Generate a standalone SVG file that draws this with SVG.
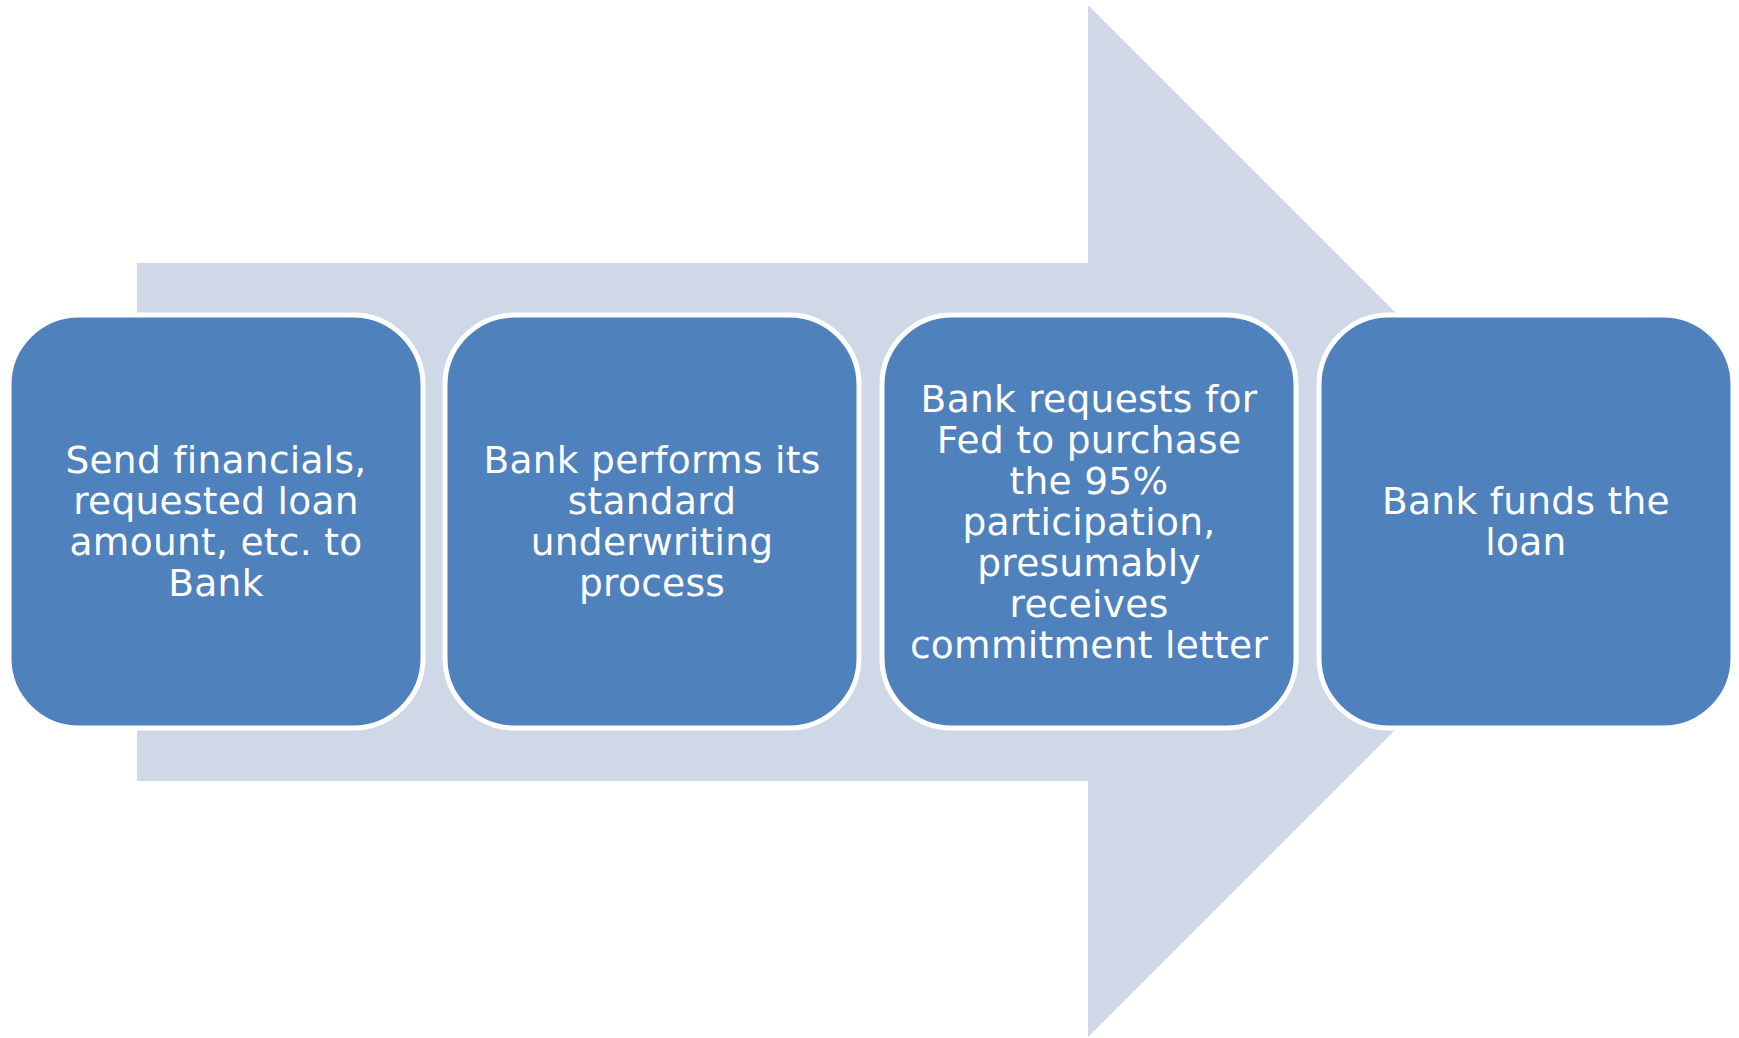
<svg xmlns="http://www.w3.org/2000/svg" width="1739" height="1038" viewBox="0 0 1739 1038">
  <style>
    .step { fill: #4F81BD; stroke: #FFFFFF; stroke-width: 5; }
    .label { fill: #FFFFFF; font-family: "DejaVu Sans", Verdana, sans-serif; font-size: 37.5px; letter-spacing: 0.3px; text-anchor: middle; }
  </style>
  <rect x="0" y="0" width="1739" height="1038" fill="#FFFFFF"/>

  <!-- background process arrow -->
  <g id="connectors">
    <polygon id="process-arrow" points="137,263 1088,263 1088,5 1604,521 1088,1037 1088,781 137,781" fill="#D0D8E8"/>
  </g>

  <g id="step1">
    <rect class="step" x="9" y="315" width="414" height="413" rx="70" ry="70"/>
    <text class="label" x="216" y="473">Send financials,</text>
    <text class="label" x="216" y="514">requested loan</text>
    <text class="label" x="216" y="555">amount, etc. to</text>
    <text class="label" x="216" y="596">Bank</text>
  </g>

  <g id="step2">
    <rect class="step" x="445" y="315" width="414" height="413" rx="70" ry="70"/>
    <text class="label" x="652" y="473">Bank performs its</text>
    <text class="label" x="652" y="514">standard</text>
    <text class="label" x="652" y="555">underwriting</text>
    <text class="label" x="652" y="596">process</text>
  </g>

  <g id="step3">
    <rect class="step" x="882" y="315" width="414" height="413" rx="70" ry="70"/>
    <text class="label" x="1089" y="411.5">Bank requests for</text>
    <text class="label" x="1089" y="452.5">Fed to purchase</text>
    <text class="label" x="1089" y="493.5">the 95%</text>
    <text class="label" x="1089" y="534.5">participation,</text>
    <text class="label" x="1089" y="575.5">presumably</text>
    <text class="label" x="1089" y="616.5">receives</text>
    <text class="label" x="1089" y="657.5">commitment letter</text>
  </g>

  <g id="step4">
    <rect class="step" x="1319" y="315" width="414" height="413" rx="70" ry="70"/>
    <text class="label" x="1526" y="514">Bank funds the</text>
    <text class="label" x="1526" y="555">loan</text>
  </g>
</svg>
